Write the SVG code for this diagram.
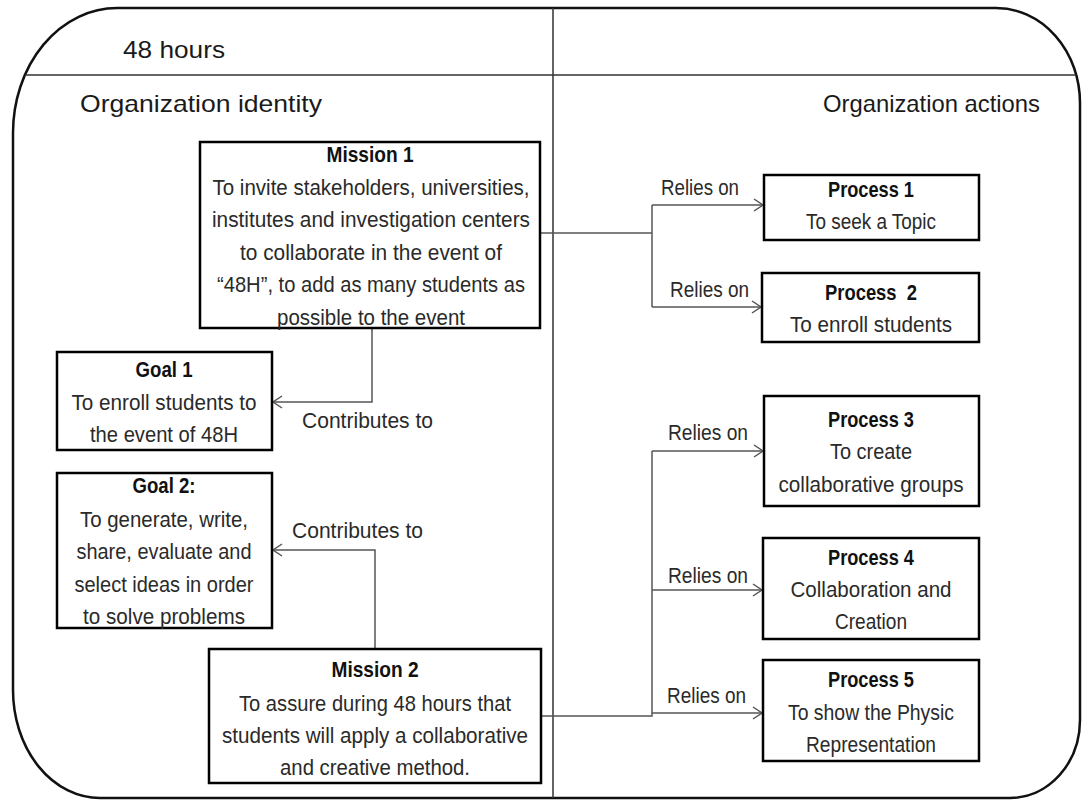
<svg xmlns="http://www.w3.org/2000/svg" width="1083" height="800" viewBox="0 0 1083 800">
<style>
text{font-family:"Liberation Sans",Arial,sans-serif;font-size:22px;fill:#2a2a2a}
.h{font-size:24px;fill:#1a1a1a}
.b{font-weight:bold;fill:#111}
.m{text-anchor:middle}
.box{fill:#fff;stroke:#000;stroke-width:2.5}
.conn{fill:none;stroke:#555;stroke-width:1.5}
.frame{fill:none;stroke:#111;stroke-width:2.5}
.grid{fill:none;stroke:#333;stroke-width:1.5}
</style>
<defs>
<marker id="arr" markerUnits="userSpaceOnUse" markerWidth="12" markerHeight="14" refX="10" refY="7" orient="auto">
<path d="M1,1 L10,7 L1,13" fill="none" stroke="#555" stroke-width="1.5"/>
</marker>
</defs>
<rect width="1083" height="800" fill="#fff"/>
<g id="frame">
<path class="frame" d="M117,8 H996 A84,95 0 0 1 1080,103 V720 A70,78 0 0 1 1010,798 H100 A87,108 0 0 1 13,690 V133 A104,125 0 0 1 117,8 Z"/>
<path class="grid" d="M25,75 H1076 M553,8 V798"/>
<text class="h" x="123" y="58" textLength="102" lengthAdjust="spacingAndGlyphs">48 hours</text>
<text class="h" x="80" y="112" textLength="242" lengthAdjust="spacingAndGlyphs">Organization identity</text>
<text class="h" x="823" y="112" textLength="217" lengthAdjust="spacingAndGlyphs">Organization actions</text>
</g>
<g id="connectors">
<path class="conn" d="M540,233 H652 M652,205 V307"/>
<path class="conn" d="M652,205 H763" marker-end="url(#arr)"/>
<path class="conn" d="M652,307 H761" marker-end="url(#arr)"/>
<path class="conn" d="M372,328 V402 H273" marker-end="url(#arr)"/>
<path class="conn" d="M375,649 V550 H273" marker-end="url(#arr)"/>
<path class="conn" d="M541,716 H652 V451"/>
<path class="conn" d="M652,451 H763" marker-end="url(#arr)"/>
<path class="conn" d="M652,590 H762" marker-end="url(#arr)"/>
<path class="conn" d="M652,713 H762" marker-end="url(#arr)"/>
<text x="661" y="195" textLength="78" lengthAdjust="spacingAndGlyphs">Relies on</text>
<text x="670" y="297" textLength="79" lengthAdjust="spacingAndGlyphs">Relies on</text>
<text x="668" y="440" textLength="80" lengthAdjust="spacingAndGlyphs">Relies on</text>
<text x="668" y="583" textLength="80" lengthAdjust="spacingAndGlyphs">Relies on</text>
<text x="667" y="703" textLength="79" lengthAdjust="spacingAndGlyphs">Relies on</text>
<text x="302" y="428" textLength="131" lengthAdjust="spacingAndGlyphs">Contributes to</text>
<text x="292" y="538" textLength="131" lengthAdjust="spacingAndGlyphs">Contributes to</text>
</g>
<g id="mission1">
<rect class="box" x="200" y="142" width="340" height="186"/>
<text class="m b" x="370" y="162" textLength="87" lengthAdjust="spacingAndGlyphs">Mission 1</text>
<text class="m" x="371" y="195" textLength="317" lengthAdjust="spacingAndGlyphs">To invite stakeholders, universities,</text>
<text class="m" x="371" y="227" textLength="318" lengthAdjust="spacingAndGlyphs">institutes and investigation centers</text>
<text class="m" x="371" y="260" textLength="262" lengthAdjust="spacingAndGlyphs">to collaborate in the event of</text>
<text class="m" x="371" y="292" textLength="308" lengthAdjust="spacingAndGlyphs">“48H”, to add as many students as</text>
<text class="m" x="371" y="325" textLength="188" lengthAdjust="spacingAndGlyphs">possible to the event</text>
</g>
<g id="goal1">
<rect class="box" x="57" y="352" width="215" height="98"/>
<text class="m b" x="164" y="377" textLength="57" lengthAdjust="spacingAndGlyphs">Goal 1</text>
<text class="m" x="164" y="410" textLength="185" lengthAdjust="spacingAndGlyphs">To enroll students to</text>
<text class="m" x="164" y="442" textLength="148" lengthAdjust="spacingAndGlyphs">the event of 48H</text>
</g>
<g id="goal2">
<rect class="box" x="57" y="473" width="215" height="155"/>
<text class="m b" x="164" y="493" textLength="63" lengthAdjust="spacingAndGlyphs">Goal 2:</text>
<text class="m" x="164" y="527" textLength="168" lengthAdjust="spacingAndGlyphs">To generate, write,</text>
<text class="m" x="164" y="559" textLength="175" lengthAdjust="spacingAndGlyphs">share, evaluate and</text>
<text class="m" x="164" y="592" textLength="179" lengthAdjust="spacingAndGlyphs">select ideas in order</text>
<text class="m" x="164" y="624" textLength="162" lengthAdjust="spacingAndGlyphs">to solve problems</text>
</g>
<g id="mission2">
<rect class="box" x="209" y="649" width="332" height="134"/>
<text class="m b" x="375" y="677" textLength="87" lengthAdjust="spacingAndGlyphs">Mission 2</text>
<text class="m" x="375" y="711" textLength="272" lengthAdjust="spacingAndGlyphs">To assure during 48 hours that</text>
<text class="m" x="375" y="743" textLength="306" lengthAdjust="spacingAndGlyphs">students will apply a collaborative</text>
<text class="m" x="375" y="775" textLength="190" lengthAdjust="spacingAndGlyphs">and creative method.</text>
</g>
<g id="process1">
<rect class="box" x="764" y="175" width="215" height="65"/>
<text class="m b" x="871" y="197" textLength="86" lengthAdjust="spacingAndGlyphs">Process 1</text>
<text class="m" x="871" y="229" textLength="130" lengthAdjust="spacingAndGlyphs">To seek a Topic</text>
</g>
<g id="process2">
<rect class="box" x="762" y="273" width="217" height="69"/>
<text class="m b" x="871" y="300" textLength="92" lengthAdjust="spacingAndGlyphs" xml:space="preserve">Process  2</text>
<text class="m" x="871" y="332" textLength="162" lengthAdjust="spacingAndGlyphs">To enroll students</text>
</g>
<g id="process3">
<rect class="box" x="764" y="396" width="215" height="110"/>
<text class="m b" x="871" y="427" textLength="86" lengthAdjust="spacingAndGlyphs">Process 3</text>
<text class="m" x="871" y="459" textLength="82" lengthAdjust="spacingAndGlyphs">To create</text>
<text class="m" x="871" y="492" textLength="185" lengthAdjust="spacingAndGlyphs">collaborative groups</text>
</g>
<g id="process4">
<rect class="box" x="763" y="538" width="216" height="101"/>
<text class="m b" x="871" y="565" textLength="86" lengthAdjust="spacingAndGlyphs">Process 4</text>
<text class="m" x="871" y="597" textLength="161" lengthAdjust="spacingAndGlyphs">Collaboration and</text>
<text class="m" x="871" y="629" textLength="72" lengthAdjust="spacingAndGlyphs">Creation</text>
</g>
<g id="process5">
<rect class="box" x="763" y="660" width="216" height="101"/>
<text class="m b" x="871" y="687" textLength="86" lengthAdjust="spacingAndGlyphs">Process 5</text>
<text class="m" x="871" y="720" textLength="166" lengthAdjust="spacingAndGlyphs">To show the Physic</text>
<text class="m" x="871" y="752" textLength="130" lengthAdjust="spacingAndGlyphs">Representation</text>
</g>
</svg>
